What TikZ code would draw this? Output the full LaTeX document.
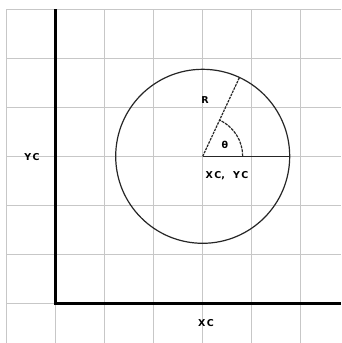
\documentclass[tikz,border=0pt]{standalone}
\usepackage{fontspec}
\setmainfont{DejaVu Sans}
\usetikzlibrary{calc}
\begin{document}
\begin{tikzpicture}[x=1pt,y=-1pt,
  gridline/.style={draw=black!22,line width=1pt},
  axisline/.style={draw=black,line width=3pt},
  thin/.style={draw=black!85,line width=1.2pt},
  lbl/.style={font=\bfseries\fontsize{9.5}{10}\selectfont,inner sep=0pt}]
\useasboundingbox[fill=white] (0,0) rectangle (341,343);
% grid
\foreach \k in {0,...,6}{
  \draw[gridline] (6.7+49*\k,9.3) -- (6.7+49*\k,343);
  \draw[gridline] (6.7,9.3+49*\k) -- (341,9.3+49*\k);
}
% axes
\coordinate (o) at (55.7,303.3);
\coordinate (top) at (55.7,9.3);
\coordinate (right) at (341,303.3);
\draw[axisline] (top) -- (o) -- (right);
% circle
\coordinate (c) at (202.7,156.3);
\draw[thin] (c) circle[radius=87];
\coordinate (r) at ($(c)+(-65:87)$);
\draw[thin] (c) -- ++(87,0) coordinate (e);
\draw[thin,dash pattern=on 2.5pt off 1pt] (c) -- (r);
\draw[thin,dash pattern=on 3pt off 1pt] ($(c)+(40,0)$) arc[start angle=0,end angle=-65,radius=40];
% labels
\node[lbl] (R) at (205,100) {R};
\node[lbl] (th) at (225,145) {θ};
\node[lbl] (cc) at (227,176) {X\,C,\hspace{8pt}Y\,C};
\node[lbl] (yc) at (32,157) {Y\,C};
\node[lbl] (xc) at (206,323) {X\,C};
\end{tikzpicture}
\end{document}
